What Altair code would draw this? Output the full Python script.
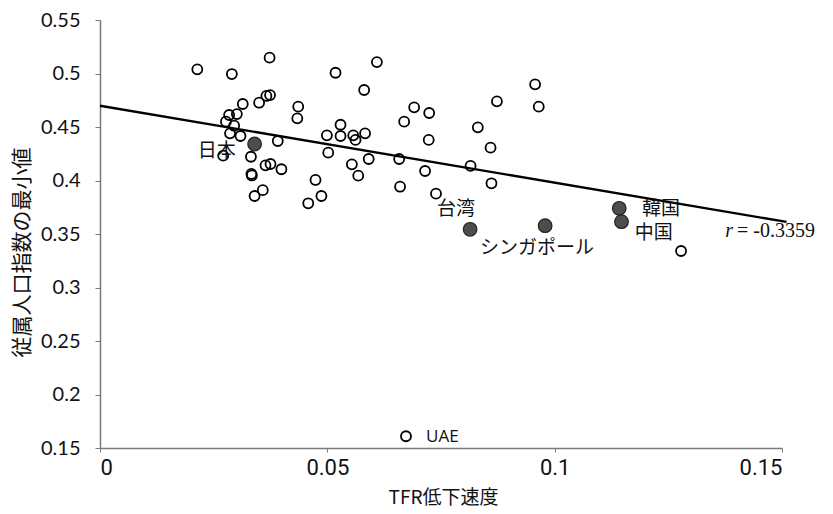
import altair as alt
import pandas as pd

# open circles (countries)
open_x = [0.0214, 0.0290, 0.0373, 0.0518, 0.0314, 0.0350, 0.0366, 0.0374, 0.0436, 0.0434,
          0.0284, 0.0301, 0.0277, 0.0295, 0.0286, 0.0309, 0.0391, 0.0499, 0.0529, 0.0529,
          0.0502, 0.0332, 0.0271, 0.0364, 0.0375, 0.0399, 0.0333, 0.0334, 0.0474, 0.0358,
          0.0340, 0.0487, 0.0458, 0.0609, 0.0581, 0.0557, 0.0562, 0.0583, 0.0554, 0.0591,
          0.0568, 0.0658, 0.0669, 0.0691, 0.0724, 0.0723, 0.0715, 0.0815, 0.0831, 0.0859,
          0.0873, 0.0861, 0.0957, 0.0965, 0.0660, 0.0739, 0.1278, 0.0673]
open_y = [0.5039, 0.4995, 0.5148, 0.5007, 0.4715, 0.4727, 0.4790, 0.4798, 0.4690, 0.4581,
          0.4612, 0.4621, 0.4550, 0.4512, 0.4441, 0.4416, 0.4369, 0.4422, 0.4521, 0.4416,
          0.4260, 0.4222, 0.4232, 0.4142, 0.4154, 0.4105, 0.4061, 0.4047, 0.4005, 0.3910,
          0.3855, 0.3855, 0.3787, 0.5107, 0.4846, 0.4422, 0.4379, 0.4441, 0.4151, 0.4201,
          0.4045, 0.4201, 0.4550, 0.4684, 0.4631, 0.4379, 0.4089, 0.4136, 0.4497, 0.4307,
          0.4740, 0.3974, 0.4899, 0.4690, 0.3942, 0.3877, 0.3341, 0.1610]

# highlighted (filled) countries
filled_names = ["日本", "台湾", "シンガポール", "韓国", "中国"]
filled_x = [0.0340, 0.0814, 0.0979, 0.1142, 0.1147]
filled_y = [0.4341, 0.3544, 0.3578, 0.3740, 0.3615]

# text labels
label_text = ["日本", "台湾", "シンガポール", "韓国", "中国"]
label_x = [0.0257, 0.0783, 0.0961, 0.1234, 0.1218]
label_y = [0.4275, 0.3733, 0.3369, 0.3733, 0.3509]

uae_text = ["UAE"]
uae_x = [0.0753]
uae_y = [0.1601]

# regression line end points
fit_x = [0.0, 0.151]
fit_y = [0.4699, 0.3613]

# correlation annotation
r_sym = ["r"]
r_sym_x = [0.1375]
r_val = ["= -0.3359"]
r_val_x = [0.1401]
r_y = [0.347]

x_ticks = [0, 0.05, 0.1, 0.15]
y_ticks = [0.15, 0.2, 0.25, 0.3, 0.35, 0.4, 0.45, 0.5, 0.55]

open_df = pd.DataFrame({"x": open_x, "y": open_y})
filled_df = pd.DataFrame({"x": filled_x, "y": filled_y, "name": filled_names})
label_df = pd.DataFrame({"x": label_x, "y": label_y, "t": label_text})
uae_df = pd.DataFrame({"x": uae_x, "y": uae_y, "t": uae_text})
fit_df = pd.DataFrame({"x": fit_x, "y": fit_y})
rs_df = pd.DataFrame({"x": r_sym_x, "y": r_y, "t": r_sym})
rv_df = pd.DataFrame({"x": r_val_x, "y": r_y, "t": r_val})

xscale = alt.Scale(domain=[0, 0.15], nice=False, zero=False)
yscale = alt.Scale(domain=[0.15, 0.55], nice=False, zero=False)

xaxis = alt.Axis(
    values=x_ticks, format=".2~f", grid=False,
    domainColor="#7a7a7a", domainWidth=1.5, tickColor="#7a7a7a", tickWidth=1, tickSize=4,
    labelFont="Roboto", labelFontSize=22, labelColor="#111111", labelPadding=5,
    title="TFR低下速度", titleFont="Noto Sans CJK JP", titleFontSize=19, titleFontWeight="normal",
    titleColor="#111111", titleX=343, titleY=49, titleBaseline="middle", titleAlign="center",
)
yaxis = alt.Axis(
    values=y_ticks, format=".2~f", grid=False,
    domainColor="#7a7a7a", domainWidth=1.5, tickColor="#7a7a7a", tickWidth=1, tickSize=5,
    labelFont="Lato", labelFontSize=20, labelColor="#111111", labelPadding=15,
    title="従属人口指数の最小値", titleFont="Noto Sans CJK JP", titleFontSize=21,
    titleFontWeight="normal", titleColor="#111111", titleX=-78, titleY=232,
    titleAngle=-90, titleBaseline="middle", titleAlign="center",
)

X = alt.X("x:Q", scale=xscale, axis=xaxis)
Y = alt.Y("y:Q", scale=yscale, axis=yaxis)

opens = alt.Chart(open_df).mark_point(
    shape="circle", filled=False, stroke="black", strokeWidth=1.8, size=100, opacity=1
).encode(x=X, y=Y)

filled = alt.Chart(filled_df).mark_point(
    shape="circle", filled=True, fill="#4d4d4d", stroke="#222222", strokeWidth=1.2, size=185, opacity=1
).encode(x=X, y=Y)

fit = alt.Chart(fit_df).mark_line(color="black", strokeWidth=2.4).encode(x=X, y=Y)

labels = alt.Chart(label_df).mark_text(
    font="Noto Sans CJK JP", fontSize=19, color="#111111", align="center", baseline="middle"
).encode(x=X, y=Y, text="t:N")

uae = alt.Chart(uae_df).mark_text(
    font="Open Sans", fontSize=17, color="#111111", align="center", baseline="middle"
).encode(x=X, y=Y, text="t:N")

rsym = alt.Chart(rs_df).mark_text(
    font="Liberation Serif", fontSize=20, fontStyle="italic", color="#111111",
    align="left", baseline="alphabetic"
).encode(x=X, y=Y, text="t:N")

rval = alt.Chart(rv_df).mark_text(
    font="Liberation Serif", fontSize=20, color="#111111", align="left", baseline="alphabetic"
).encode(x=X, y=Y, text="t:N")

chart = alt.layer(opens, fit, filled, labels, uae, rsym, rval).properties(
    width=682, height=428,
    autosize=alt.AutoSizeParams(type="none"),
    padding={"left": 100, "top": 20, "right": 51, "bottom": 66},
    background="white",
).configure_view(stroke=None)

chart.save("out.html", embed_options={"renderer": "svg", "actions": False})
